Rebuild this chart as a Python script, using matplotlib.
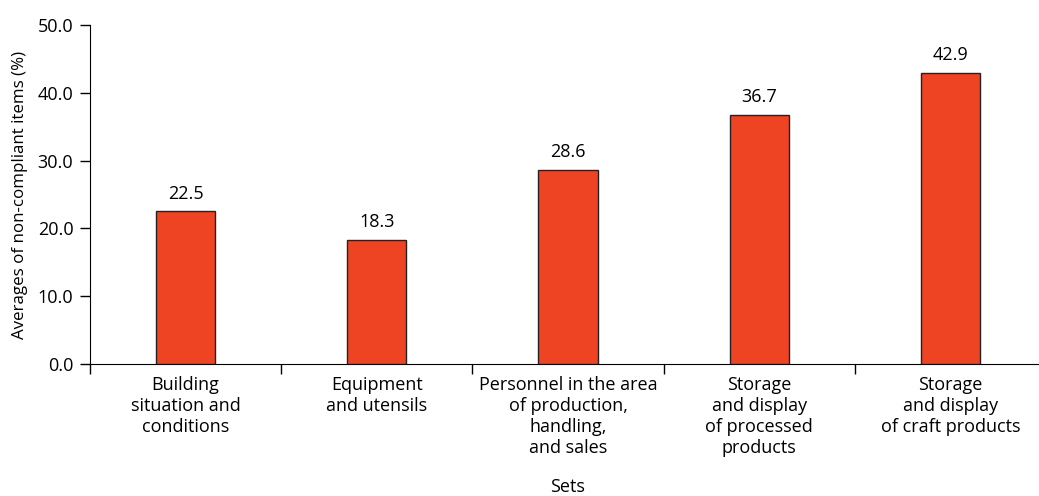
import matplotlib.pyplot as plt
from matplotlib.ticker import FixedLocator

plt.rcParams['font.family'] = ['Open Sans', 'DejaVu Sans']

# data
categories = ['Building\nsituation and\nconditions',
              'Equipment\nand utensils',
              'Personnel in the area\nof production,\nhandling,\nand sales',
              'Storage\nand display\nof processed\nproducts',
              'Storage\nand display\nof craft products']
values = [22.5, 18.3, 28.6, 36.7, 42.9]
y_ticks = [0, 10, 20, 30, 40, 50]

fig = plt.figure(figsize=(10.39, 4.96), dpi=100)
ax = fig.add_axes([90 / 1039, 1 - 364 / 496, 956 / 1039, 339 / 496])

x = list(range(len(values)))
bars = ax.bar(x, values, width=0.31, color='#EF4424', edgecolor='#222222', linewidth=1.0, zorder=3)

for xi, v in zip(x, values):
    ax.text(xi, v + 1.3, f'{v:.1f}', ha='center', va='bottom', fontsize=13)

ax.set_xlim(-0.5, len(values) - 0.5)
ax.set_ylim(0, 50)
ax.set_yticks(y_ticks)
ax.set_yticklabels([f'{t:.1f}' for t in y_ticks], fontsize=13)

ax.set_xticks(x)
ax.set_xticklabels(categories, fontsize=13, linespacing=1.2, va='top')
ax.tick_params(axis='x', which='major', length=0, pad=9)
ax.xaxis.set_minor_locator(FixedLocator([i - 0.5 for i in range(len(values) + 1)]))
ax.tick_params(axis='x', which='minor', length=7, width=1, direction='out')
ax.tick_params(axis='y', length=7, width=1, direction='out', pad=5)

ax.spines['top'].set_visible(False)
ax.spines['right'].set_visible(False)

ax.set_ylabel('Averages of non-compliant items (%)', fontsize=12.2, labelpad=7)
ax.set_xlabel('Sets', fontsize=13)
ax.xaxis.set_label_coords(0.5, -0.335)

fig.savefig('out.png', dpi=100)
